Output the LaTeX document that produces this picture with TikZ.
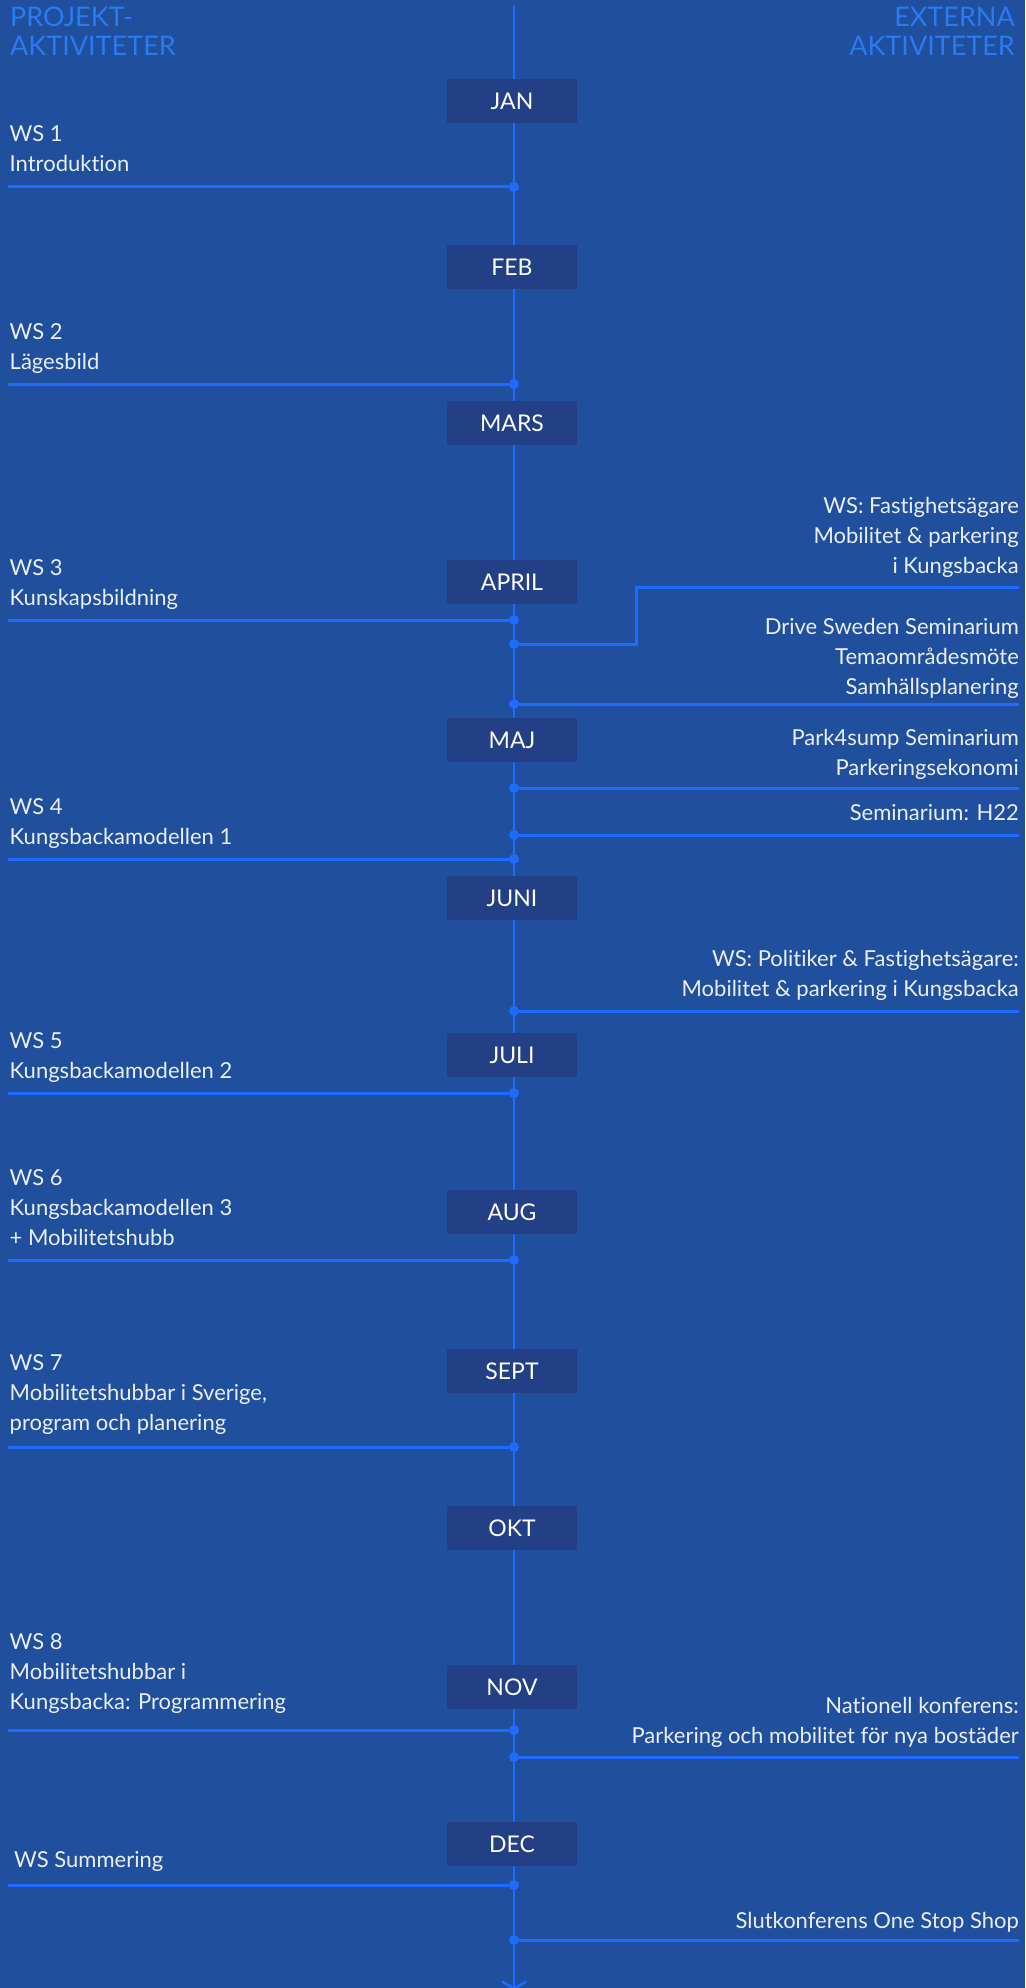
\documentclass[tikz,border=0pt]{standalone}
\usepackage{fontspec}
\setmainfont{Lato}[Ligatures=NoCommon]
\usepackage{xcolor}
\definecolor{bg}{HTML}{1F4F9D}
\definecolor{mbox}{HTML}{233F86}
\definecolor{tline}{HTML}{1F6BFF}
\definecolor{head}{HTML}{2A7AF2}
\definecolor{ink}{HTML}{EAEEF6}
\usetikzlibrary{arrows.meta,positioning,calc}
\tikzset{
  month/.style={fill=mbox,minimum width=130pt,minimum height=44pt,inner sep=0pt,text=white,font=\fontsize{23}{26}\selectfont},
  lab/.style={text=ink,inner sep=0pt,font=\fontsize{22}{30}\selectfont},
  llab/.style={lab,align=left,anchor=base west},
  rlab/.style={lab,align=right,anchor=base east},
  hlab/.style={text=head,inner sep=0pt,font=\fontsize{27}{29}\selectfont},
  ev/.style={draw=tline,line width=3pt},
  dot/.style={circle,fill=tline,inner sep=0pt,minimum size=10pt},
}
\begin{document}
\begin{tikzpicture}[x=1pt,y=-1pt]
\fill[bg] (0,0) rectangle (1025,1988);
\useasboundingbox (0,0) rectangle (1025,1988);
% headers
\node[hlab,align=left,anchor=base west] (hl) at (10,56) {PROJEKT-\\AKTIVITETER};
\node[hlab,align=right,anchor=base east] (hr) at (1015,56) {EXTERNA\\AKTIVITETER};
% timeline
\coordinate (top) at (514,5);
\coordinate (bot) at (514,1990);
\draw[draw=tline,line width=2.5pt,-{Straight Barb[length=7pt,width=24pt]}] (top) -- (bot);
% months
\foreach \m/\y in {JAN/101,FEB/267,MARS/423,APRIL/582,MAJ/740,JUNI/898,JULI/1055,AUG/1212,SEPT/1371,OKT/1528,NOV/1687,DEC/1844}
  \node[month] (m\m) at (512,\y) {\m};
% project activities
\foreach \n/\x/\y/\b/\t in {1/9.5/187/172/{WS 1\\Introduktion},
    2/9.5/384/369/{WS 2\\Lägesbild},
    3/9.5/620/605/{WS 3\\Kunskapsbildning},
    4/9.5/859/844/{WS 4\\Kungsbackamodellen 1},
    5/9.5/1093/1078/{WS 5\\Kungsbackamodellen 2},
    6/9.5/1260/1245/{WS 6\\Kungsbackamodellen 3\\+ Mobilitetshubb},
    7/9.5/1447/1430/{WS 7\\Mobilitetshubbar i Sverige,\\program och planering},
    8/9.5/1730/1709/{WS 8\\Mobilitetshubbar i\\Kungsbacka: Programmering},
    9/14/1885/1867/{WS Summering}}{
  \node[llab] (lt\n) at (\x,\b) {\t};
  \coordinate (le\n) at (8,\y);
  \node[dot] (ld\n) at (514,\y) {};
  \draw[ev] (le\n) -- (ld\n);
}
% external activities
\foreach \n/\y/\b/\t in {2/704/694/{Drive Sweden Seminarium\\Temaområdesmöte\\Samhällsplanering},
    3/788/775/{Park4sump Seminarium\\Parkeringsekonomi},
    4/835/820/{Seminarium: H22},
    5/1011/996/{WS: Politiker \& Fastighetsägare:\\Mobilitet \& parkering i Kungsbacka},
    6/1757/1743/{Nationell konferens:\\Parkering och mobilitet för nya bostäder},
    7/1940/1928/{Slutkonferens One Stop Shop}}{
  \node[rlab] (rt\n) at (1019,\b) {\t};
  \coordinate (re\n) at (1019,\y);
  \node[dot] (rd\n) at (514,\y) {};
  \draw[ev] (rd\n) -- (re\n);
}
% stepped connector
\node[rlab] (rt1) at (1019,573) {WS: Fastighetsägare\\Mobilitet \& parkering\\i Kungsbacka};
\coordinate (re1) at (1019,587);
\coordinate (rb1) at (636,644);
\node[dot] (rd1) at (514,644) {};
\draw[ev] (rd1) -- (rb1) |- (re1);
\end{tikzpicture}
\end{document}
